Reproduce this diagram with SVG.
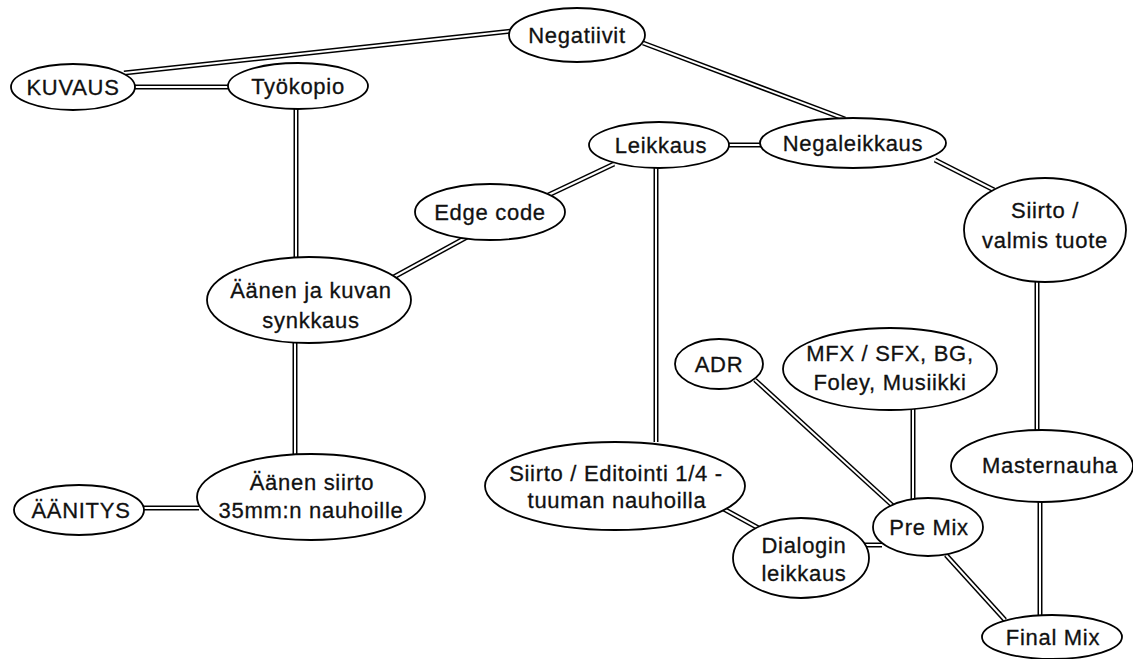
<svg xmlns="http://www.w3.org/2000/svg" width="1133" height="659" viewBox="0 0 1133 659">
<style>
.n ellipse{fill:#fff;stroke:#000;stroke-width:1.8}
.n text{font-family:"Liberation Sans",Arial,sans-serif;font-size:22px;letter-spacing:0.7px;fill:#111;stroke:#111;stroke-width:0.3;text-anchor:middle}
.c .o{stroke:#000;stroke-width:5;fill:none}
.c .i{stroke:#fff;stroke-width:2;fill:none}
</style>
<rect width="1133" height="659" fill="#fff"/>
<defs>
<g id="lines">
<line x1="124" y1="73" x2="512" y2="31"/>
<line x1="134" y1="87" x2="230" y2="87"/>
<line x1="643" y1="43" x2="845" y2="119"/>
<line x1="296" y1="108" x2="296" y2="259"/>
<line x1="727" y1="145" x2="762" y2="145"/>
<line x1="614" y1="164" x2="540" y2="199"/>
<line x1="467" y1="237" x2="392" y2="278"/>
<line x1="656" y1="167" x2="656" y2="442"/>
<line x1="935" y1="160" x2="994" y2="190"/>
<line x1="1037" y1="281" x2="1037" y2="432"/>
<line x1="295" y1="342" x2="295" y2="456"/>
<line x1="143" y1="508" x2="199" y2="508"/>
<line x1="722" y1="508" x2="762" y2="530"/>
<line x1="864" y1="545" x2="882" y2="545"/>
<line x1="755" y1="380" x2="893" y2="506"/>
<line x1="913" y1="409" x2="913" y2="500"/>
<line x1="946" y1="555" x2="1005" y2="620"/>
<line x1="1040" y1="501" x2="1040" y2="616"/>
</g>
</defs>
<g id="connectors" class="c">
<use href="#lines" class="o"/>
<use href="#lines" class="i"/>
</g>
<g id="n-kuvaus" class="n"><ellipse cx="73" cy="87" rx="62" ry="23"/><text x="73" y="95">KUVAUS</text></g>
<g id="n-tyokopio" class="n"><ellipse cx="298" cy="86" rx="70" ry="23"/><text x="298" y="94">Työkopio</text></g>
<g id="n-negatiivit" class="n"><ellipse cx="577" cy="35" rx="68" ry="27"/><text x="577" y="43">Negatiivit</text></g>
<g id="n-leikkaus" class="n"><ellipse cx="659" cy="145" rx="70" ry="23"/><text x="661" y="153">Leikkaus</text></g>
<g id="n-negaleikkaus" class="n"><ellipse cx="853" cy="143" rx="93" ry="25"/><text x="853" y="151">Negaleikkaus</text></g>
<g id="n-edgecode" class="n"><ellipse cx="490" cy="212" rx="75" ry="28"/><text x="490" y="220">Edge code</text></g>
<g id="n-siirtovalmis" class="n"><ellipse cx="1045" cy="230" rx="81" ry="52"/><text x="1045" y="218">Siirto /</text><text x="1045" y="248">valmis tuote</text></g>
<g id="n-synkkaus" class="n"><ellipse cx="309" cy="300" rx="102" ry="43"/><text x="311" y="298">Äänen ja kuvan</text><text x="311" y="328">synkkaus</text></g>
<g id="n-adr" class="n"><ellipse cx="719" cy="364" rx="44" ry="25"/><text x="719" y="372">ADR</text></g>
<g id="n-mfx" class="n"><ellipse cx="890" cy="369" rx="107" ry="41"/><text x="890" y="361">MFX / SFX, BG,</text><text x="890" y="390">Foley, Musiikki</text></g>
<g id="n-masternauha" class="n"><ellipse cx="1042" cy="466" rx="91" ry="36"/><text x="1050" y="473">Masternauha</text></g>
<g id="n-siirtoeditointi" class="n"><ellipse cx="615" cy="486" rx="130" ry="44"/><text x="616" y="481">Siirto / Editointi 1/4 -</text><text x="617" y="508">tuuman nauhoilla</text></g>
<g id="n-aanensiirto" class="n"><ellipse cx="311" cy="497" rx="114" ry="43"/><text x="312" y="490">Äänen siirto</text><text x="311" y="518">35mm:n nauhoille</text></g>
<g id="n-aanitys" class="n"><ellipse cx="79" cy="510" rx="65" ry="25"/><text x="81" y="518">ÄÄNITYS</text></g>
<g id="n-premix" class="n"><ellipse cx="928" cy="527" rx="55" ry="29"/><text x="929" y="535">Pre Mix</text></g>
<g id="n-dialogin" class="n"><ellipse cx="801" cy="558" rx="68" ry="40"/><text x="804" y="553">Dialogin</text><text x="804" y="581">leikkaus</text></g>
<g id="n-finalmix" class="n"><ellipse cx="1052" cy="637" rx="70" ry="22"/><text x="1053" y="645">Final Mix</text></g>
</svg>
